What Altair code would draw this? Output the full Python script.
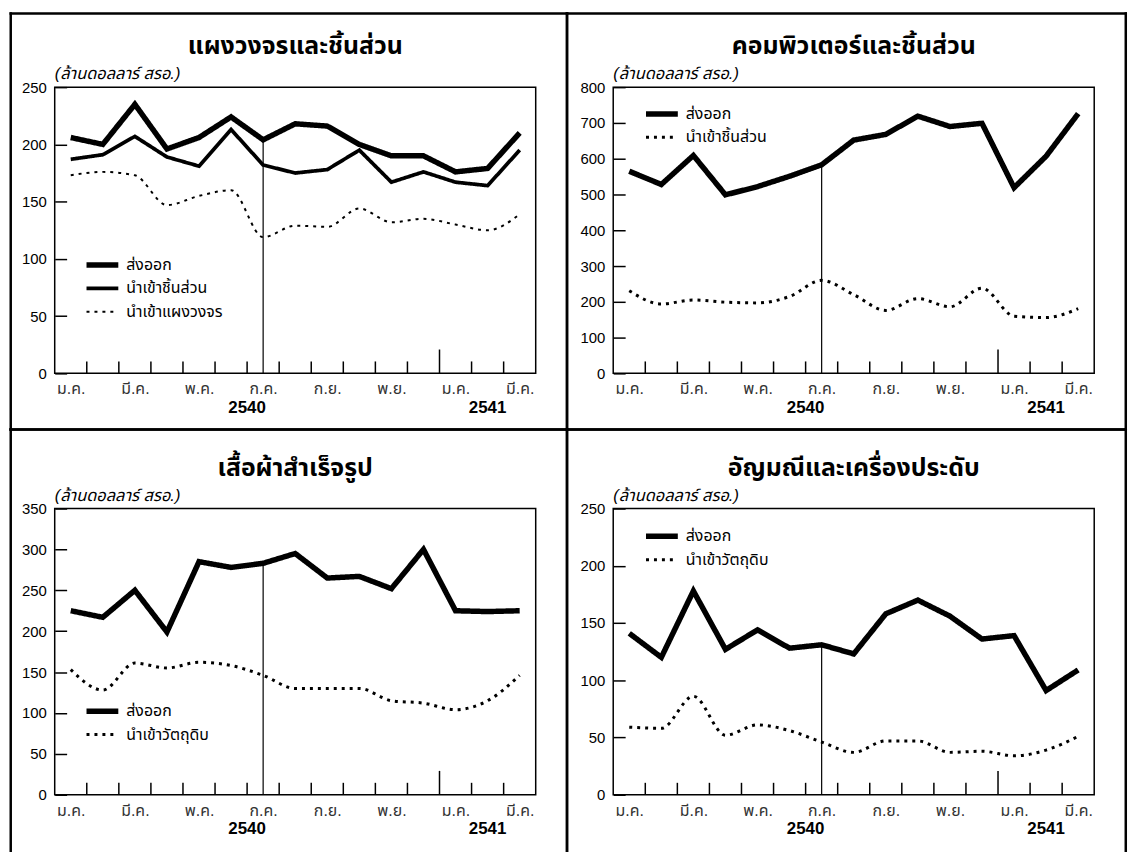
import json
import altair as alt
import pandas as pd

THAI = "Liberation Sans, Noto Sans Thai, Loma, Garuda, Tlwg Typo, Tahoma, sans-serif"
NUM = "Liberation Sans, Arial, sans-serif"

# ---------------- data ----------------
months = ["ม.ค.", "ก.พ.", "มี.ค.", "เม.ย.", "พ.ค.", "มิ.ย.", "ก.ค.",
          "ส.ค.", "ก.ย.", "ต.ค.", "พ.ย.", "ธ.ค.", "ม.ค.", "ก.พ.", "มี.ค."]
month_pos = list(range(1, 16))
label_pos = [1, 3, 5, 7, 9, 11, 13, 15]
years = ["2540", "2541"]
year_pos = [6.5, 14]
tick_pos = [1.5, 2.5, 3.5, 4.5, 5.5, 6.5, 7.5, 8.5, 9.5, 10.5, 11.5, 13.5, 14.5]
year_break = [12.5]
july_pos = 7
unit_label = "(ล้านดอลลาร์ สรอ.)"

titles = ["แผงวงจรและชิ้นส่วน", "คอมพิวเตอร์และชิ้นส่วน",
          "เสื้อผ้าสำเร็จรูป", "อัญมณีและเครื่องประดับ"]

name_export = "ส่งออก"
name_parts = "นำเข้าชิ้นส่วน"
name_circuit = "นำเข้าแผงวงจร"
name_raw = "นำเข้าวัตถุดิบ"

ic_export = [206, 200, 235, 196, 206, 224, 204, 218, 216, 200, 190, 190, 176, 179, 210]
ic_parts = [187, 191, 207, 189, 181, 213, 182, 175, 178, 195, 167, 176, 167, 164, 195]
ic_circuit = [173, 176, 173, 147, 155, 160, 119, 129, 128, 144, 132, 135, 130, 125, 139]

comp_export = [565, 528, 609, 499, 522, 551, 583, 652, 668, 719, 690, 699, 519, 607, 726]
comp_parts = [231, 194, 205, 199, 197, 215, 260, 220, 176, 209, 186, 238, 160, 156, 181]

garment_export = [225, 217, 250, 199, 285, 278, 283, 295, 265, 267, 252, 300, 225, 224, 225]
garment_raw = [153, 128, 161, 155, 162, 158, 146, 130, 130, 130, 115, 112, 104, 115, 146]

gem_export = [141, 120, 178, 127, 144, 128, 131, 123, 158, 170, 156, 136, 139, 91, 109]
gem_raw = [59, 58, 86, 52, 61, 56, 46, 37, 47, 47, 37, 38, 34, 39, 51]

y_max = [250, 800, 350, 250]
y_step = [50, 100, 50, 50]

# ---------------- styles ----------------
W, H = 484, 288
DASH = {"thick": [1, 0], "thin": [1, 0], "dot": [3, 5]}
WIDTH = {"thick": 5.5, "thin": 2, "dot": 3}
BW = 2.5  # panel border width

month_js = json.dumps(months, ensure_ascii=False)


def panel(title, ymax, ystep, series, leg_xy, box, top_row):
    L, R, T, B = box
    rows = []
    for name, vals, style in series:
        for p, v in zip(month_pos, vals):
            rows.append({"m": p, "v": v, "series": name, "style": style})
    df = pd.DataFrame(rows)
    names = [s[0] for s in series]
    dash_range = [DASH[s[2]] for s in series]
    width_range = [WIDTH[s[2]] for s in series]

    leg = alt.Legend(orient="none", legendX=leg_xy[0], legendY=leg_xy[1], title=None,
                     symbolType="stroke", symbolSize=1024, symbolStrokeColor="black",
                     clipHeight=16, rowPadding=7.5, labelFontSize=16, labelFont=THAI,
                     labelOffset=5, labelColor="black", padding=0, labelLimit=400)
    x = alt.X("m:Q", scale=alt.Scale(domain=[0.5, 15.5], nice=False, zero=False),
              axis=alt.Axis(values=label_pos, labelExpr=month_js + "[datum.value - 1]",
                            ticks=False, domain=False, grid=False, title=None,
                            labelFlush=False, labelOverlap=False, labelFontSize=16,
                            labelFont=THAI, labelPadding=7.5, labelColor="#333333"))
    y = alt.Y("v:Q", scale=alt.Scale(domain=[0, ymax], nice=False, zero=True),
              axis=alt.Axis(values=list(range(0, ymax + 1, ystep)), offset=-12, tickSize=12,
                            tickColor="black", tickWidth=1.5, domain=False, grid=False,
                            title=None, labelFlush=False, labelOverlap=False,
                            labelFontSize=15, labelFont=NUM, labelPadding=8.5,
                            labelColor="black"))
    enc = dict(
        x=x, y=y,
        strokeDash=alt.StrokeDash("series:N", scale=alt.Scale(domain=names, range=dash_range), legend=leg),
        strokeWidth=alt.StrokeWidth("series:N", scale=alt.Scale(domain=names, range=width_range), legend=leg),
    )
    solid = alt.Chart(df).transform_filter("datum.style != 'dot'").mark_line(
        color="black", strokeJoin="miter").encode(**enc)
    dotted = alt.Chart(df).transform_filter("datum.style == 'dot'").mark_line(
        color="black", interpolate="monotone").encode(**enc)

    export_vals = series[0][1]
    vline = alt.Chart(pd.DataFrame({"m": [july_pos], "v": [0], "v2": [export_vals[july_pos - 1]]})).mark_rule(
        color="black", strokeWidth=1.2).encode(x=x, y=y, y2="v2:Q")

    ticks = alt.Chart(pd.DataFrame({"m": tick_pos})).mark_rule(color="black", strokeWidth=1.5).encode(
        x=x, y=alt.value(H), y2=alt.value(H - 12))
    tall = alt.Chart(pd.DataFrame({"m": year_break})).mark_rule(color="black", strokeWidth=1.5).encode(
        x=x, y=alt.value(H), y2=alt.value(H - 24))

    yrs = alt.Chart(pd.DataFrame({"year": years, "m": year_pos})).mark_text(
        fontSize=17, fontWeight="bold", font=NUM, baseline="middle", color="black").encode(
        x=x, y=alt.value(323), text="year:N")

    sub = alt.Chart(pd.DataFrame({"t": [unit_label]})).mark_text(
        align="left", baseline="middle", fontStyle="italic", fontSize=16.5, font=THAI,
        color="black").encode(x=alt.value(0), y=alt.value(-13), text="t:N")

    ttl = alt.Chart(pd.DataFrame({"t": [title]})).mark_text(
        align="center", baseline="alphabetic", fontWeight="bold", fontSize=25, font=THAI,
        color="black").encode(x=alt.value(W / 2), y=alt.value(-33), text="t:N")

    frame = pd.DataFrame({"t": [""]})
    border = [
        alt.Chart(frame).mark_rule(color="black", strokeWidth=BW, strokeCap="square").encode(
            x=alt.value(L), x2=alt.value(R), y=alt.value(T)),
        alt.Chart(frame).mark_rule(color="black", strokeWidth=BW, strokeCap="square").encode(
            x=alt.value(L), y=alt.value(T), y2=alt.value(B)),
        alt.Chart(frame).mark_rule(color="black", strokeWidth=BW, strokeCap="square").encode(
            x=alt.value(R), y=alt.value(T), y2=alt.value(B)),
    ]
    if top_row:
        border.append(alt.Chart(frame).mark_rule(color="black", strokeWidth=BW, strokeCap="square").encode(
            x=alt.value(L), x2=alt.value(R), y=alt.value(B)))

    return alt.layer(solid, dotted, vline, ticks, tall, yrs, sub, ttl, *border).properties(
        width=W, height=H)


# panel boxes (left, right, top, bottom) relative to each plot area
box_tl = (-44.25, 515.5, -74, 344.5)
box_tr = (-46.5, 515.75, -74, 344.5)
box_bl = (-44.25, 515.5, -79.5, 345)
box_br = (-46.5, 515.75, -79.5, 345)

p1 = panel(titles[0], y_max[0], y_step[0],
           [(name_export, ic_export, "thick"), (name_parts, ic_parts, "thin"),
            (name_circuit, ic_circuit, "dot")], (29, 171), box_tl, True)
p2 = panel(titles[1], y_max[1], y_step[1],
           [(name_export, comp_export, "thick"), (name_parts, comp_parts, "dot")], (30, 19), box_tr, True)
p3 = panel(titles[2], y_max[2], y_step[2],
           [(name_export, garment_export, "thick"), (name_raw, garment_raw, "dot")], (29, 196), box_bl, False)
p4 = panel(titles[3], y_max[3], y_step[3],
           [(name_export, gem_export, "thick"), (name_raw, gem_raw, "dot")], (30, 20), box_br, False)

chart = alt.concat(p1, p2, p3, p4, columns=2, spacing={"row": 136, "column": 78},
                   bounds="flush").resolve_scale(
    x="independent", y="independent", strokeDash="independent", strokeWidth="independent"
).resolve_legend(strokeDash="independent", strokeWidth="independent").resolve_axis(
    x="independent", y="independent"
).configure_view(stroke="black", strokeWidth=1.5).properties(padding=0, background="white")

chart.save("out.html", embed_options={"renderer": "svg", "actions": False})
